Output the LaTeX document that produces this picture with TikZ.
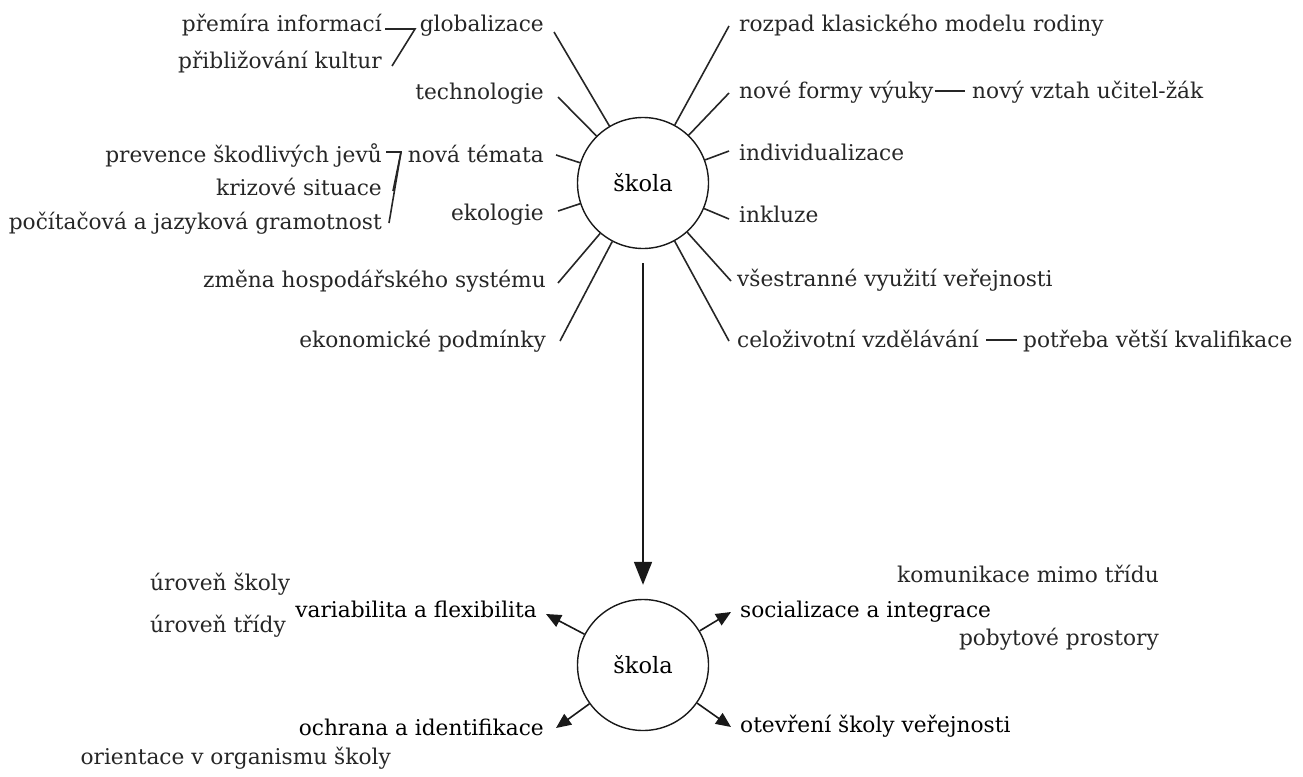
\documentclass[tikz,border=0pt]{standalone}
\usepackage{fontspec}
\setmainfont{DejaVu Serif}
\usetikzlibrary{arrows.meta}
\begin{document}
\begin{tikzpicture}[x=1pt,y=-1pt,
  lbl/.style={inner sep=0pt,text=black!85,font=\fontsize{21.7}{25}\selectfont},
  big/.style={inner sep=0pt,text=black,font=\fontsize{21.7}{25}\selectfont},
  hub/.style={circle,draw=black!90,line width=1.4pt,minimum size=131pt,inner sep=0pt,font=\fontsize{22.5}{26}\selectfont},
  spoke/.style={line width=1.6pt,draw=black!85},
  ptr/.style={line width=1.6pt,draw=black!90,-{Triangle[length=15pt,width=13pt]}},
]
\useasboundingbox (0,0) rectangle (1303,776);
\node[hub] (top) at (643,183) {škola};
\node[hub] (bot) at (643,665) {škola};
% left labels
\node[lbl,anchor=base east] (prem) at (382,32) {přemíra informací};
\node[lbl,anchor=base east] (glob) at (544,32) {globalizace};
\node[lbl,anchor=base east] (pribl) at (382,69) {přibližování kultur};
\node[lbl,anchor=base east] (tech) at (544,99) {technologie};
\node[lbl,anchor=base east] (prev) at (382,162) {prevence škodlivých jevů};
\node[lbl,anchor=base east] (nova) at (544,162) {nová témata};
\node[lbl,anchor=base east] (kriz) at (382,195) {krizové situace};
\node[lbl,anchor=base east] (eko) at (544,220) {ekologie};
\node[lbl,anchor=base east] (poc) at (382,229) {počítačová a jazyková gramotnost};
\node[lbl,anchor=base east] (zmena) at (546,287) {změna hospodářského systému};
\node[lbl,anchor=base east] (ekon) at (546,347) {ekonomické podmínky};
% right labels
\node[lbl,anchor=base west] (rozpad) at (739,32) {rozpad klasického modelu rodiny};
\node[lbl,anchor=base west] (formy) at (739,98) {nové formy výuky};
\node[lbl,anchor=base west] (vztah) at (972,98) {nový vztah učitel-žák};
\node[lbl,anchor=base west] (indiv) at (739,160) {individualizace};
\node[lbl,anchor=base west] (inkl) at (739,222) {inkluze};
\node[lbl,anchor=base west] (vses) at (737,286) {všestranné využití veřejnosti};
\node[lbl,anchor=base west] (celo) at (737,347) {celoživotní vzdělávání};
\node[lbl,anchor=base west] (potr) at (1023,347) {potřeba větší kvalifikace};
% spoke ends
\coordinate (eGlob) at (554,32);
\coordinate (eTech) at (558,97);
\coordinate (eNova) at (556,155);
\coordinate (eEko) at (558,211);
\coordinate (eZmena) at (558,283);
\coordinate (eEkon) at (560,341);
\coordinate (eRozpad) at (729,26);
\coordinate (eFormy) at (729,93);
\coordinate (eIndiv) at (729,151);
\coordinate (eInkl) at (729,219);
\coordinate (eVses) at (731,281);
\coordinate (eCelo) at (729,341);
\foreach \e in {eGlob,eTech,eNova,eEko,eZmena,eEkon,eRozpad,eFormy,eIndiv,eInkl,eVses,eCelo}
  \draw[spoke] (top) -- (\e);
% dashes
\draw[spoke] ([xshift=1pt,yshift=7pt]formy.base east) -- ([xshift=-7pt,yshift=7pt]vztah.base west);
\draw[spoke] ([xshift=7pt,yshift=7pt]celo.base east) -- ([xshift=-6pt,yshift=7pt]potr.base west);
% bracket 1
\coordinate (b1) at (415,29);
\coordinate (b1end) at (392,66);
\draw[spoke] ([xshift=3pt,yshift=3pt]prem.base east) -- (b1) -- (b1end);
% bracket 2
\coordinate (b2) at (401,152);
\coordinate (b2a) at (393,191);
\coordinate (b2b) at (389,223);
\draw[spoke] ([xshift=4pt,yshift=10pt]prev.base east) -- (b2) -- (b2a);
\draw[spoke] (b2) -- (b2b);
% main arrow
\draw[line width=1.7pt,draw=black!90,-{Triangle[length=23pt,width=18pt]},shorten <=14pt,shorten >=14pt] (top) -- (bot);
% bottom labels
\node[big,anchor=base east] (var) at (537,617) {variabilita a flexibilita};
\node[lbl,anchor=base west] (urs) at (150,590) {úroveň školy};
\node[lbl,anchor=base west] (urt) at (150,632) {úroveň třídy};
\node[big,anchor=base west] (soc) at (740,617) {socializace a integrace};
\node[lbl,anchor=base east] (kom) at (1159,582) {komunikace mimo třídu};
\node[lbl,anchor=base east] (pob) at (1159,645) {pobytové prostory};
\node[big,anchor=base east] (och) at (544,735) {ochrana a identifikace};
\node[big,anchor=base west] (otev) at (740,732) {otevření školy veřejnosti};
\node[lbl,anchor=base east] (orient) at (391,764) {orientace v organismu školy};
\coordinate (tVar) at (546,614);
\coordinate (tSoc) at (731,612);
\coordinate (tOch) at (556,728);
\coordinate (tOtev) at (731,727);
\foreach \t in {tVar,tSoc,tOch,tOtev}
  \draw[ptr] (bot) -- (\t);
\end{tikzpicture}
\end{document}
